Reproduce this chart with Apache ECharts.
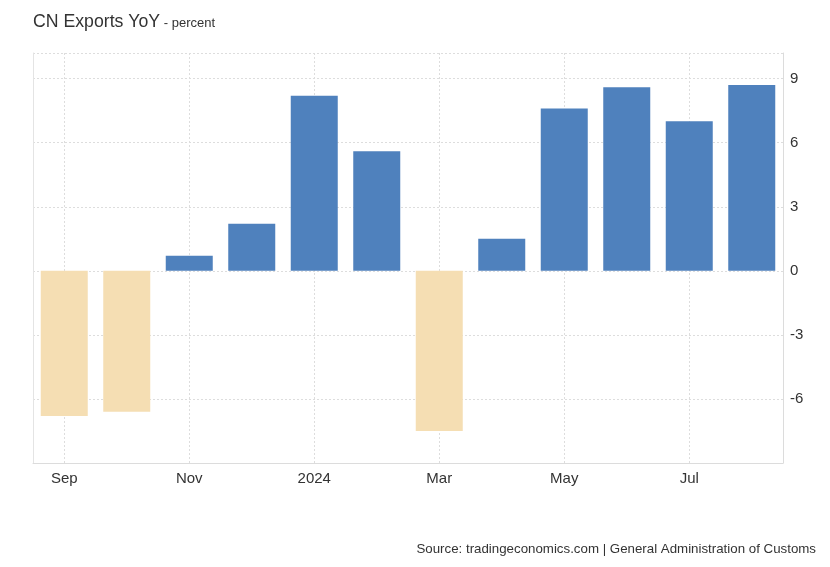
<!DOCTYPE html>
<html>
<head>
<meta charset="utf-8">
<script src="https://cdn.jsdelivr.net/npm/echarts@6/dist/echarts.min.js"></script>
<style>
html,body{margin:0;padding:0;background:#fff;}
#chart{width:830px;height:567px;}
</style>
</head>
<body>
<div id="chart"></div>
<script>
const categories = ['Sep','Oct','Nov','Dec','2024','Feb','Mar','Apr','May','Jun','Jul','Aug'];
const exportsYoY = [-6.8, -6.6, 0.7, 2.2, 8.2, 5.6, -7.5, 1.5, 7.6, 8.6, 7.0, 8.7];
const yTicks = [-6, -3, 0, 3, 6, 9];

const FONT = '"Liberation Sans", Arial, sans-serif';
const chart = echarts.init(document.getElementById('chart'));
chart.setOption({
  animation: false,
  backgroundColor: '#fff',
  textStyle: { fontFamily: FONT },
  graphic: [{
    type: 'text', left: 33, top: 13,
    style: {
      text: '{a|CN Exports YoY}{b| - percent}',
      rich: {
        a: { fontSize: 17.7, fill: '#333', fontFamily: FONT, fontWeight: 'normal' },
        b: { fontSize: 13, fill: '#333', fontFamily: FONT, fontWeight: 'normal', padding: [3, 0, 0, 0] }
      }
    }
  }, {
    type: 'text', right: 14, top: 543,
    style: { text: 'Source: tradingeconomics.com | General Administration of Customs', fontSize: 13.3, fill: '#333', fontFamily: FONT }
  }],
  grid: { left: 33, right: 47, top: 53, bottom: 104, containLabel: false },
  xAxis: {
    type: 'category',
    data: categories,
    axisLine: { show: true, onZero: false, lineStyle: { color: '#dcdcdc', width: 1 } },
    axisTick: { show: false, alignWithLabel: true },
    axisLabel: { interval: 1, color: '#333', fontSize: 15, margin: 8, fontFamily: FONT },
    splitLine: { show: true, interval: 1, alignWithLabel: true, lineStyle: { color: '#dddddd', type: [2, 2], width: 1 } }
  },
  yAxis: [{
    type: 'value',
    position: 'right',
    min: -9, max: 10.2, interval: 3,
    axisLine: { show: true, lineStyle: { color: '#dcdcdc' } },
    axisTick: { show: false },
    axisLabel: {
      color: '#333', fontSize: 15, margin: 7, fontFamily: FONT,
      showMinLabel: false, showMaxLabel: false,
      formatter: v => yTicks.includes(v) ? String(v) : ''
    },
    splitLine: { show: true, lineStyle: { color: '#dddddd', type: [2, 2], width: 1 } }
  }, {
    type: 'value',
    position: 'left',
    min: -9, max: 10.2,
    axisLine: { show: true, lineStyle: { color: '#e4e4e4' } },
    axisTick: { show: false }, axisLabel: { show: false }, splitLine: { show: false }
  }],
  series: [{
    type: 'bar',
    yAxisIndex: 0,
    barWidth: 47,
    data: exportsYoY.map(v => ({
      value: v,
      itemStyle: { color: v >= 0 ? '#4f81bd' : '#f5deb3' }
    }))
  }]
});
</script>
</body>
</html>
